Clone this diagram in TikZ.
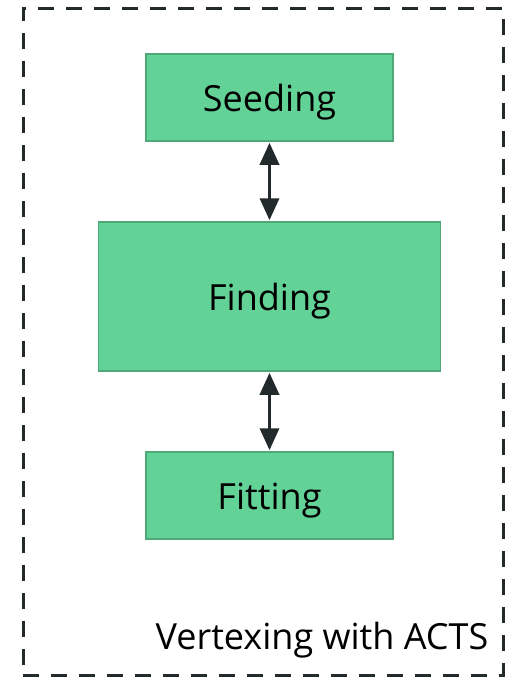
\documentclass[tikz,border=0pt]{standalone}
\usepackage{fontspec}
\setmainfont{Open Sans}
\usepackage{tikz}
\usetikzlibrary{arrows.meta,positioning}

\definecolor{stagefill}{HTML}{63D297}
\definecolor{stageedge}{HTML}{4FA877}
\definecolor{darkline}{HTML}{232A2B}

\begin{document}
\begin{tikzpicture}[
    x=1pt, y=-1pt,
    node distance=79.5pt,
    stage/.style={draw=stageedge, line width=1.5pt, fill=stagefill, align=center,
                  minimum width=247pt, minimum height=87pt, text height=31pt, text depth=3pt,
                  font=\fontsize{36}{42}\selectfont},
    frame/.style={draw=darkline, line width=3pt, dash pattern=on 16pt off 12pt,
                  minimum width=480pt, minimum height=667pt, inner sep=0pt},
    arr/.style={{Triangle[length=22pt,width=19pt]}-{Triangle[length=22pt,width=19pt]},
                line width=3.5pt, draw=darkline, shorten <=1pt, shorten >=1pt}
]
\useasboundingbox (0,0) rectangle (512,678);

\node[frame] (frame) at (263,341.5) {};

\node[stage] (seed) at (269.5,97.5) {Seeding};
\node[stage, below=of seed, minimum width=342pt, minimum height=149pt] (find) {Finding};
\node[stage, below=of find] (fit) {Fitting};

\node[anchor=base east, font=\fontsize{36}{42}\selectfont, inner sep=0pt]
    (caption) at ([xshift=-16pt, yshift=27pt]frame.south east) {Vertexing with ACTS};

\draw[arr] (seed) -- (find);
\draw[arr] (find) -- (fit);

\end{tikzpicture}
\end{document}
